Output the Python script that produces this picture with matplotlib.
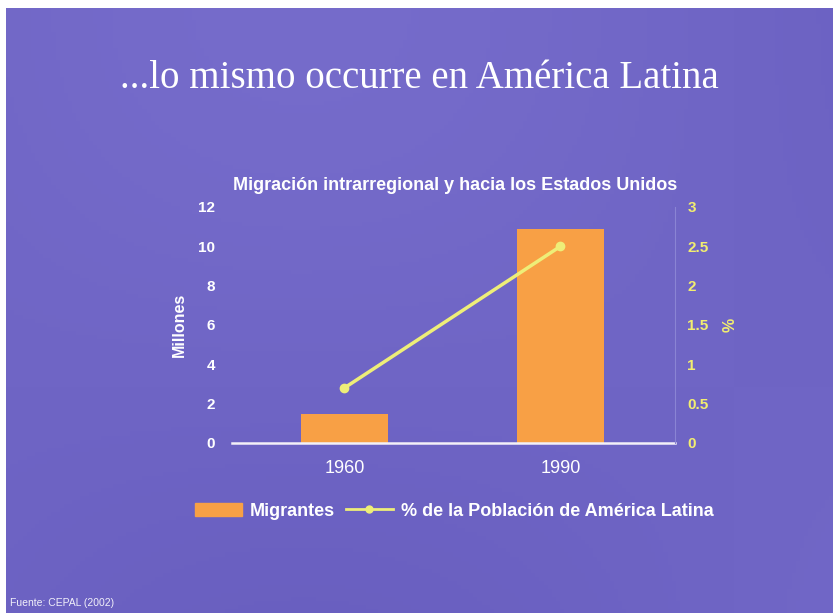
import numpy as np
import matplotlib
matplotlib.use("Agg")
import matplotlib.pyplot as plt
from matplotlib.lines import Line2D
from matplotlib.patches import Patch

years = ["1960", "1990"]
migrantes = [1.5, 10.9]          # millones
pct_poblacion = [0.7, 2.5]       # % de la poblacion de America Latina

left_ticks = [0, 2, 4, 6, 8, 10, 12]
right_ticks = [0, 0.5, 1, 1.5, 2, 2.5, 3]
right_labels = ["0", "0.5", "1", "1.5", "2", "2.5", "3"]

bar_col = "#f8a045"
line_col = "#eeee78"
yel_txt = "#f2ee70"

fig = plt.figure(figsize=(8.33, 6.13), dpi=100)
fig.patch.set_facecolor("white")

# slide background (purple, soft gradient), white margin on left/top
bg_ax = fig.add_axes([6 / 833, 0, 1 - 6 / 833, 1 - 8 / 613])
gx = np.linspace(0, 1, 200)
gy = np.linspace(0, 1, 150)
GX, GY = np.meshgrid(gx, gy)
shade = 0.5 + 0.25 * np.sin(GX * 3.0 + 0.5) * np.cos(GY * 2.5)
c1 = np.array([0x62, 0x58, 0xba]) / 255
c2 = np.array([0x7c, 0x72, 0xd0]) / 255
img = c1[None, None, :] + (c2 - c1)[None, None, :] * shade[:, :, None]
bg_ax.imshow(img, aspect="auto", extent=[0, 1, 0, 1])
bg_ax.axis("off")

fig.text(0.503, 1 - 78 / 613, "...lo mismo occurre en América Latina",
         family="Liberation Serif", fontsize=28, color="white",
         ha="center", va="center")
fig.text(455 / 833, 1 - 185 / 613,
         "Migración intrarregional y hacia los Estados Unidos",
         family="Liberation Sans", fontsize=13, fontweight="bold",
         color="white", ha="center", va="center")

ax = fig.add_axes([232 / 833, 1 - 443 / 613, 443 / 833, 236 / 613])
ax.set_facecolor("none")
x = np.arange(len(years))
ax.bar(x, migrantes, width=0.4, color=bar_col, zorder=2)
ax.set_xlim(-0.52, 1.53)
ax.set_ylim(0, 12)
ax.set_yticks(left_ticks)
ax.set_yticklabels([str(t) for t in left_ticks], color="white",
                   fontsize=11, fontweight="bold", family="Liberation Sans")
ax.set_xticks(x)
ax.set_xticklabels(years, color="white", fontsize=13,
                   family="Liberation Sans")
ax.tick_params(axis="x", length=0, pad=12)
ax.tick_params(axis="y", length=0, pad=12)
for s in ["top", "right", "left"]:
    ax.spines[s].set_visible(False)
ax.spines["bottom"].set_color("#f4f0f8")
ax.spines["bottom"].set_linewidth(1.8)
ax.set_ylabel("Millones", color="white", fontsize=11.5, fontweight="bold",
              family="Liberation Sans", labelpad=8)

ax2 = ax.twinx()
ax2.plot(x, pct_poblacion, color=line_col, lw=2.5, marker="o",
         markersize=6, zorder=3)
ax2.set_ylim(0, 3)
ax2.set_yticks(right_ticks)
ax2.set_yticklabels(right_labels, color=yel_txt, fontsize=11,
                    fontweight="bold", family="Liberation Sans")
ax2.tick_params(axis="y", length=0, pad=9)
for s in ["top", "left", "bottom"]:
    ax2.spines[s].set_visible(False)
ax2.spines["right"].set_color("#8a84d4")
ax2.set_ylabel("%", color=yel_txt, fontsize=11.5, fontweight="bold",
               family="Liberation Sans", labelpad=10)

handles = [Patch(color=bar_col),
           Line2D([0], [0], color=line_col, lw=2, marker="o", markersize=5)]
leg = fig.legend(handles, ["Migrantes", "% de la Población de América Latina"],
                 loc="center", bbox_to_anchor=(454 / 833, 1 - 511 / 613),
                 ncol=2, frameon=False, handlelength=2.6, columnspacing=0.6,
                 handletextpad=0.45,
                 prop={"family": "Liberation Sans", "size": 13,
                       "weight": "bold"})
for t in leg.get_texts():
    t.set_color("white")

fig.text(0.012, 0.008, "Fuente: CEPAL (2002)", family="Liberation Sans",
         fontsize=7.5, color="white", ha="left", va="bottom", alpha=0.9)

fig.savefig("out.png", dpi=100)
